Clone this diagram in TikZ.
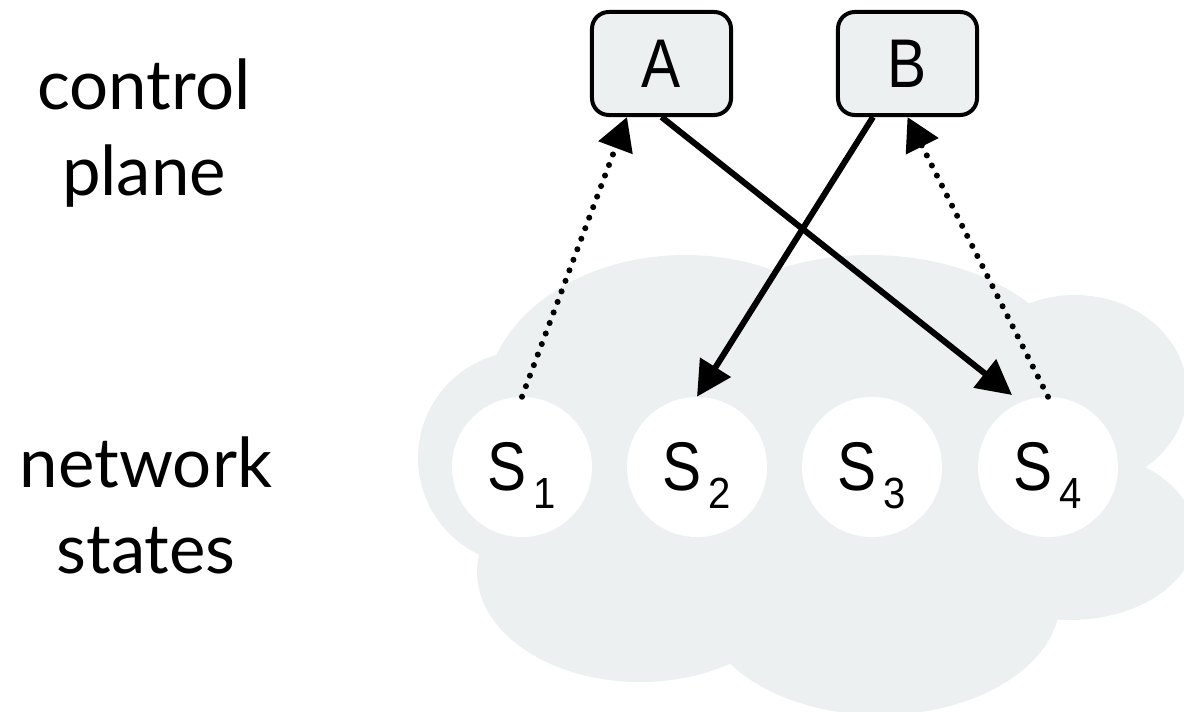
\documentclass[tikz,border=0pt]{standalone}
\usepackage{fontspec}
\usetikzlibrary{arrows.meta,calc}
\newfontfamily\captionfont{Lato}
\newfontfamily\statefont[FakeStretch=0.85]{Liberation Sans}
\newfontfamily\indexfont[FakeStretch=0.92]{Liberation Sans}
\definecolor{cloudgray}{RGB}{237,240,241}

\tikzset{
  sidelabel/.style={font=\captionfont\fontsize{49}{60.5}\selectfont, align=center, anchor=base, inner sep=0pt},
  ctrlbox/.style={draw=black, line width=2.85pt, fill=cloudgray, rounded corners=0.42cm,
    minimum width=3.475cm, minimum height=2.575cm, inner sep=0pt,
    font=\statefont\fontsize{49}{49}\selectfont},
  statenode/.style={circle, fill=white, minimum size=3.5cm, inner sep=0pt,
    font=\statefont\fontsize{49}{49}\selectfont},
  cmdarrow/.style={line width=4.3pt, -{Triangle[length=0.87cm, width=0.88cm]}},
  reportarrow/.style={line width=4.3pt, line cap=round, dash pattern=on 0pt off 8pt,
    -{Triangle[length=0.82cm, width=0.88cm]}},
}
% state name with a lowered index that does not change the node height
\newcommand{\statelabel}[1]{S\hspace{5pt}\smash{\raisebox{-12.8pt}{\indexfont\fontsize{31}{31}\selectfont #1}}}

\begin{document}
\begin{tikzpicture}[x=0.025cm, y=-0.025cm]
\useasboundingbox (0,0) rectangle (1184,711);
\clip (0,0) rectangle (1184,711);

% cloud behind the network states: overlapping lobes plus a core
\begin{scope}[fill=cloudgray]
  \fill (525,458) circle [radius=107];                       % left
  \fill (685,405) ellipse [x radius=200, y radius=150];      % top left
  \fill (870,395) ellipse [x radius=210, y radius=140];      % top
  \fill (1075,392) ellipse [x radius=112, y radius=97];      % right, upper
  \fill (1070,535) ellipse [x radius=125, y radius=85];      % right, lower
  \fill (880,600) ellipse [x radius=180, y radius=115];      % bottom
  \fill (640,572) ellipse [x radius=163, y radius=110];      % bottom left
  \fill (510,360) -- (777,280) -- (1015,300) -- (1137,460) -- (1051,610)
        -- (733,665) -- (485,555) -- cycle;                  % core
\end{scope}

% side captions
\node[sidelabel] (ctl) at (144,195) {control\\plane};
\node[sidelabel] (net) at (146,573) {network\\states};

% controllers
\node[ctrlbox] (A) at (661.5,63.5) {A};
\node[ctrlbox] (B) at (907.5,63.5) {B};

% network states
\node[statenode] (s1) at (522,467) {\statelabel{1}};
\node[statenode] (s2) at (697,467) {\statelabel{2}};
\node[statenode] (s3) at (872,467) {\statelabel{3}};
\node[statenode] (s4) at (1048,467) {\statelabel{4}};

% reads (dotted) and writes (solid)
\draw[reportarrow] (s1.north) -- ($(A.south)+(-34.5,0)$);
\draw[reportarrow] (s4.north) -- (B.south);
\draw[cmdarrow] ($(B.south)+(-34.5,0)$) -- (s2.north);
\draw[cmdarrow] (A.south) -- ($(s4.center)+(-36,-72)$);
\end{tikzpicture}
\end{document}
